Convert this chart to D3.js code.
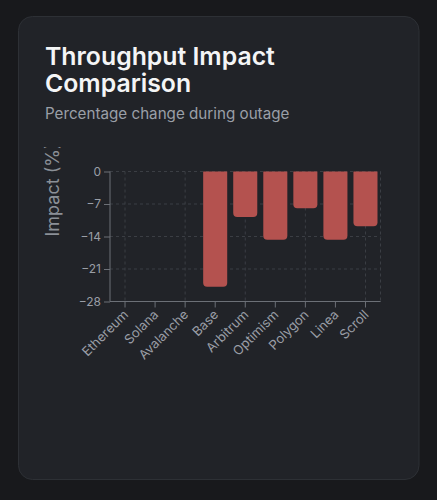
<!DOCTYPE html>
<html>
<head>
<meta charset="utf-8">
<script src="https://cdn.jsdelivr.net/npm/d3@7"></script>
<style>
  html, body { margin: 0; padding: 0; background: #18191c; }
  body { width: 437px; height: 500px; overflow: hidden; font-family: Inter, "Noto Sans", sans-serif; }
</style>
</head>
<body>
<svg id="chart" width="437" height="500"></svg>
<script>
const categories = ["Ethereum", "Solana", "Avalanche", "Base", "Arbitrum", "Optimism", "Polygon", "Linea", "Scroll"];
const impactValues = [0, 0, 0, -24.8, -9.8, -14.7, -7.9, -14.7, -11.8];
const yTicks = [0, -7, -14, -21, -28];
const titleLines = ["Throughput Impact", "Comparison"];
const subtitle = "Percentage change during outage";
const yLabel = "Impact (%)";

const svg = d3.select("#chart");

// card
svg.append("rect")
  .attr("x", 18.5).attr("y", 16.5).attr("width", 400.5).attr("height", 463)
  .attr("rx", 14).attr("fill", "#212328").attr("stroke", "#2d3035").attr("stroke-width", 1);

// title
svg.append("text")
  .attr("x", 45).attr("font-size", 24.8).attr("font-weight", 600).attr("fill", "#f4f5f6")
  .attr("font-family", "Inter, sans-serif")
  .selectAll("tspan").data(titleLines).join("tspan")
  .attr("x", 45).attr("y", (d, i) => 65 + i * 26.7).text(d => d);

svg.append("text")
  .attr("x", 45).attr("y", 118.5).attr("font-size", 15.2).attr("fill", "#9a9fa7")
  .attr("font-family", "Inter, sans-serif")
  .text(subtitle);

// plot
const pLeft = 110, pRight = 380.5, pTop = 171.5, pBottom = 301.5;
const x = d3.scaleBand().domain(categories).range([pLeft, pRight]).paddingInner(0.2).paddingOuter(0.1);
const y = d3.scaleLinear().domain([-28, 0]).range([pBottom, pTop]);

const defs = svg.append("defs");
defs.append("clipPath").attr("id", "chartClip")
  .append("rect").attr("x", 0).attr("y", 147).attr("width", 437).attr("height", 353);

const g = svg.append("g").attr("clip-path", "url(#chartClip)");

const gridColor = "#3b3e44";
// horizontal grid
g.append("g").selectAll("line").data(yTicks).join("line")
  .attr("x1", pLeft).attr("x2", pRight)
  .attr("y1", d => y(d)).attr("y2", d => y(d))
  .attr("stroke", gridColor).attr("stroke-dasharray", "3 3");
// vertical grid
const vx = categories.filter((d, i) => i % 2 === 0).map(d => x(d) + x.bandwidth() / 2).concat([pRight]);
g.append("g").selectAll("line").data(vx).join("line")
  .attr("x1", d => d).attr("x2", d => d)
  .attr("y1", pTop).attr("y2", pBottom)
  .attr("stroke", gridColor).attr("stroke-dasharray", "3 3");

// bars
const r = 4;
g.append("g").selectAll("path").data(categories.map((c, i) => ({ c, v: impactValues[i] })).filter(d => d.v !== 0))
  .join("path")
  .attr("fill", "#b4524f")
  .attr("d", d => {
    const x0 = x(d.c), w = x.bandwidth(), y0 = y(0), y1 = y(d.v);
    const rr = Math.min(r, (y1 - y0) / 2);
    return `M${x0},${y0}H${x0 + w}V${y1 - rr}Q${x0 + w},${y1} ${x0 + w - rr},${y1}H${x0 + rr}Q${x0},${y1} ${x0},${y1 - rr}Z`;
  });

const axisColor = "#6c7077";
const tickColor = "#9a9ea6";

// y axis
const yAxis = g.append("g").attr("transform", `translate(${pLeft},0)`)
  .call(d3.axisLeft(y).tickValues(yTicks).tickSize(6).tickPadding(3).tickFormat(d3.format("d")));
yAxis.select(".domain").attr("stroke", axisColor).attr("d", `M0,${pTop}V${pBottom}`);
yAxis.selectAll(".tick line").attr("stroke", axisColor);
yAxis.selectAll(".tick text").attr("fill", tickColor).attr("font-size", 12).attr("font-family", "Inter, sans-serif");

// x axis
const xAxis = g.append("g").attr("transform", `translate(0,${pBottom})`)
  .call(d3.axisBottom(x).tickSize(6).tickPadding(4));
xAxis.select(".domain").attr("stroke", axisColor).attr("d", `M${pLeft},0H${pRight}`);
xAxis.selectAll(".tick line").attr("stroke", axisColor);
xAxis.selectAll(".tick text")
  .attr("fill", tickColor).attr("font-size", 13).attr("font-family", "Inter, sans-serif")
  .attr("text-anchor", "end").attr("x", 0).attr("y", 0).attr("dy", 0)
  .attr("transform", "translate(4,14) rotate(-45)");

// y label
g.append("text")
  .attr("transform", `translate(58.5,${(pTop + pBottom) / 2}) rotate(-90)`)
  .attr("text-anchor", "start")
  .attr("font-size", 18).attr("fill", "#8b9097")
  .attr("font-family", "Inter, sans-serif")
  .text(yLabel);
</script>
</body>
</html>
